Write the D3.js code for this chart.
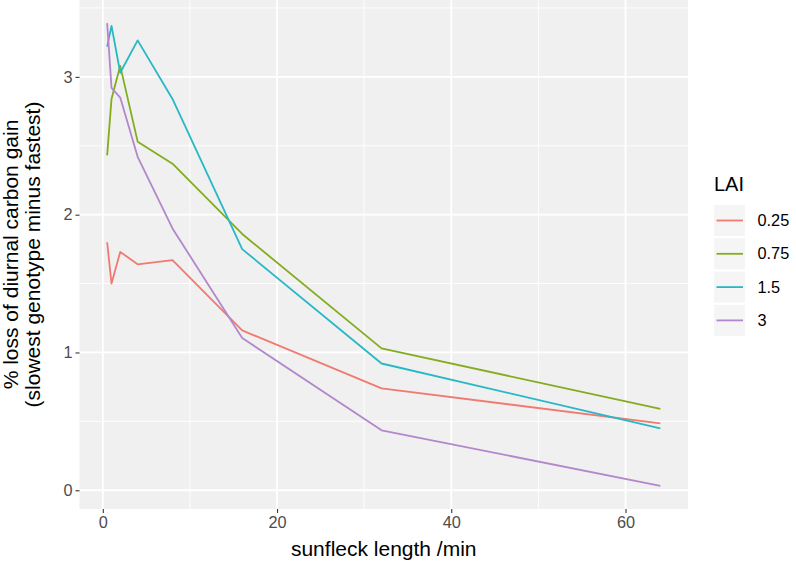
<!DOCTYPE html>
<html>
<head>
<meta charset="utf-8">
<script src="https://cdn.jsdelivr.net/npm/d3@7"></script>
<style>
  body { margin: 0; background: #fff; }
  text { font-family: "Liberation Sans", Arial, sans-serif; }
</style>
</head>
<body>
<div id="chart"></div>
<script>
// data
var sunfleck = [0.5, 1, 2, 4, 8, 16, 32, 64];
var lai025 = [1.80, 1.50, 1.73, 1.64, 1.67, 1.16, 0.74, 0.485];
var lai075 = [2.43, 2.84, 3.08, 2.53, 2.37, 1.86, 1.03, 0.59];
var lai15 = [3.22, 3.37, 3.03, 3.265, 2.84, 1.75, 0.92, 0.45];
var lai3 = [3.39, 2.92, 2.85, 2.42, 1.90, 1.105, 0.435, 0.032];
var laiLabels = ["0.25", "0.75", "1.5", "3"];
var xTicks = [0, 20, 40, 60];
var yTicks = [0, 1, 2, 3];

var colors = ["#F07A70", "#83AC1E", "#26B8C6", "#B387CB"];

//svg size
var svgWidth = 796;
var svgHeight = 561;

var margin = {
    top: 0,
    right: 108,
    bottom: 52,
    left: 79.5
};

var width = svgWidth - margin.left - margin.right;
var height = svgHeight - margin.top - margin.bottom;

var svg = d3.select("#chart")
    .append("svg")
    .attr("width", svgWidth)
    .attr("height", svgHeight);

var chartGroup = svg.append("g")
    .attr("transform", `translate(${margin.left}, ${margin.top})`);

//build series table
var allSeries = [lai025, lai075, lai15, lai3].map(function(vals, i) {
    return {
        lai: laiLabels[i],
        color: colors[i],
        values: vals.map(function(v, j) { return { x: sunfleck[j], y: v }; })
    };
});

//ggplot-like 5% expansion
function expand(ext) {
    var pad = (ext[1] - ext[0]) * 0.05;
    return [ext[0] - pad, ext[1] + pad];
}

var allY = d3.merge([lai025, lai075, lai15, lai3]);

var xLinearScale = d3.scaleLinear()
    .domain(expand(d3.extent(sunfleck)))
    .range([0, width]);

var yLinearScale = d3.scaleLinear()
    .domain(expand(d3.extent(allY)))
    .range([height, 0]);

//panel background
chartGroup.append("rect")
    .attr("width", width)
    .attr("height", height)
    .attr("fill", "#F0F0F0");

//minor grid
var xMinor = [10, 30, 50];
var yMinor = [0.5, 1.5, 2.5, 3.5];

chartGroup.selectAll(".xminor")
    .data(xMinor)
    .enter()
    .append("line")
    .attr("x1", d => xLinearScale(d))
    .attr("x2", d => xLinearScale(d))
    .attr("y1", 0)
    .attr("y2", height)
    .attr("stroke", "#fff")
    .attr("stroke-width", 0.9);

chartGroup.selectAll(".yminor")
    .data(yMinor.filter(d => yLinearScale(d) >= 0))
    .enter()
    .append("line")
    .attr("x1", 0)
    .attr("x2", width)
    .attr("y1", d => yLinearScale(d))
    .attr("y2", d => yLinearScale(d))
    .attr("stroke", "#fff")
    .attr("stroke-width", 0.9);

//major grid
chartGroup.selectAll(".xmajor")
    .data(xTicks)
    .enter()
    .append("line")
    .attr("x1", d => xLinearScale(d))
    .attr("x2", d => xLinearScale(d))
    .attr("y1", 0)
    .attr("y2", height)
    .attr("stroke", "#fff")
    .attr("stroke-width", 1.8);

chartGroup.selectAll(".ymajor")
    .data(yTicks)
    .enter()
    .append("line")
    .attr("x1", 0)
    .attr("x2", width)
    .attr("y1", d => yLinearScale(d))
    .attr("y2", d => yLinearScale(d))
    .attr("stroke", "#fff")
    .attr("stroke-width", 1.8);

//lines
var line = d3.line()
    .x(d => xLinearScale(d.x))
    .y(d => yLinearScale(d.y));

chartGroup.selectAll(".series")
    .data(allSeries)
    .enter()
    .append("path")
    .attr("d", d => line(d.values))
    .attr("fill", "none")
    .attr("stroke", d => d.color)
    .attr("stroke-width", 1.8)
    .attr("stroke-linejoin", "round");

//axes
var bottomAxis = d3.axisBottom(xLinearScale)
    .tickValues(xTicks)
    .tickFormat(d3.format("d"))
    .tickSize(4)
    .tickPadding(3);
var leftAxis = d3.axisLeft(yLinearScale)
    .tickValues(yTicks)
    .tickFormat(d3.format("d"))
    .tickSize(4)
    .tickPadding(3);

var xAxis = chartGroup.append("g")
    .attr("transform", `translate(0, ${height})`)
    .call(bottomAxis);

var yAxis = chartGroup.append("g")
    .call(leftAxis);

[xAxis, yAxis].forEach(function(ax) {
    ax.select(".domain").remove();
    ax.selectAll("line").attr("stroke", "#333").attr("stroke-width", 1.1);
    ax.selectAll("text")
        .attr("fill", "#4D4D4D")
        .style("font-size", "16.3px")
        .style("font-family", "'Liberation Sans', Arial, sans-serif");
});

//axis titles
chartGroup.append("text")
    .attr("x", width / 2)
    .attr("y", height + 46.5)
    .attr("text-anchor", "middle")
    .style("font-size", "21px")
    .text("sunfleck length /min");

var yTitle = chartGroup.append("text")
    .attr("transform", `translate(${-margin.left + 18}, ${height / 2}) rotate(-90)`)
    .attr("text-anchor", "middle")
    .style("font-size", "21px");

yTitle.append("tspan")
    .attr("x", 0)
    .attr("y", 0)
    .text("% loss of diurnal carbon gain");
yTitle.append("tspan")
    .attr("x", 0)
    .attr("y", 22)
    .text("(slowest genotype minus fastest)");

//legend
var legend = svg.append("g")
    .attr("transform", "translate(714, 0)");

legend.append("text")
    .attr("x", 0)
    .attr("y", 191)
    .style("font-size", "20px")
    .text("LAI");

var keys = legend.selectAll(".key")
    .data(allSeries)
    .enter()
    .append("g")
    .attr("transform", (d, i) => `translate(0, ${205 + i * 33.3})`);

keys.append("rect")
    .attr("width", 31)
    .attr("height", 31)
    .attr("fill", "#F5F5F5");

keys.append("line")
    .attr("x1", 2.5)
    .attr("x2", 29)
    .attr("y1", 15.5)
    .attr("y2", 15.5)
    .attr("stroke", d => d.color)
    .attr("stroke-width", 1.8);

keys.append("text")
    .attr("x", 43.5)
    .attr("y", 21)
    .attr("fill", "#000")
    .style("font-size", "16.3px")
    .text(d => d.lai);
</script>
</body>
</html>
